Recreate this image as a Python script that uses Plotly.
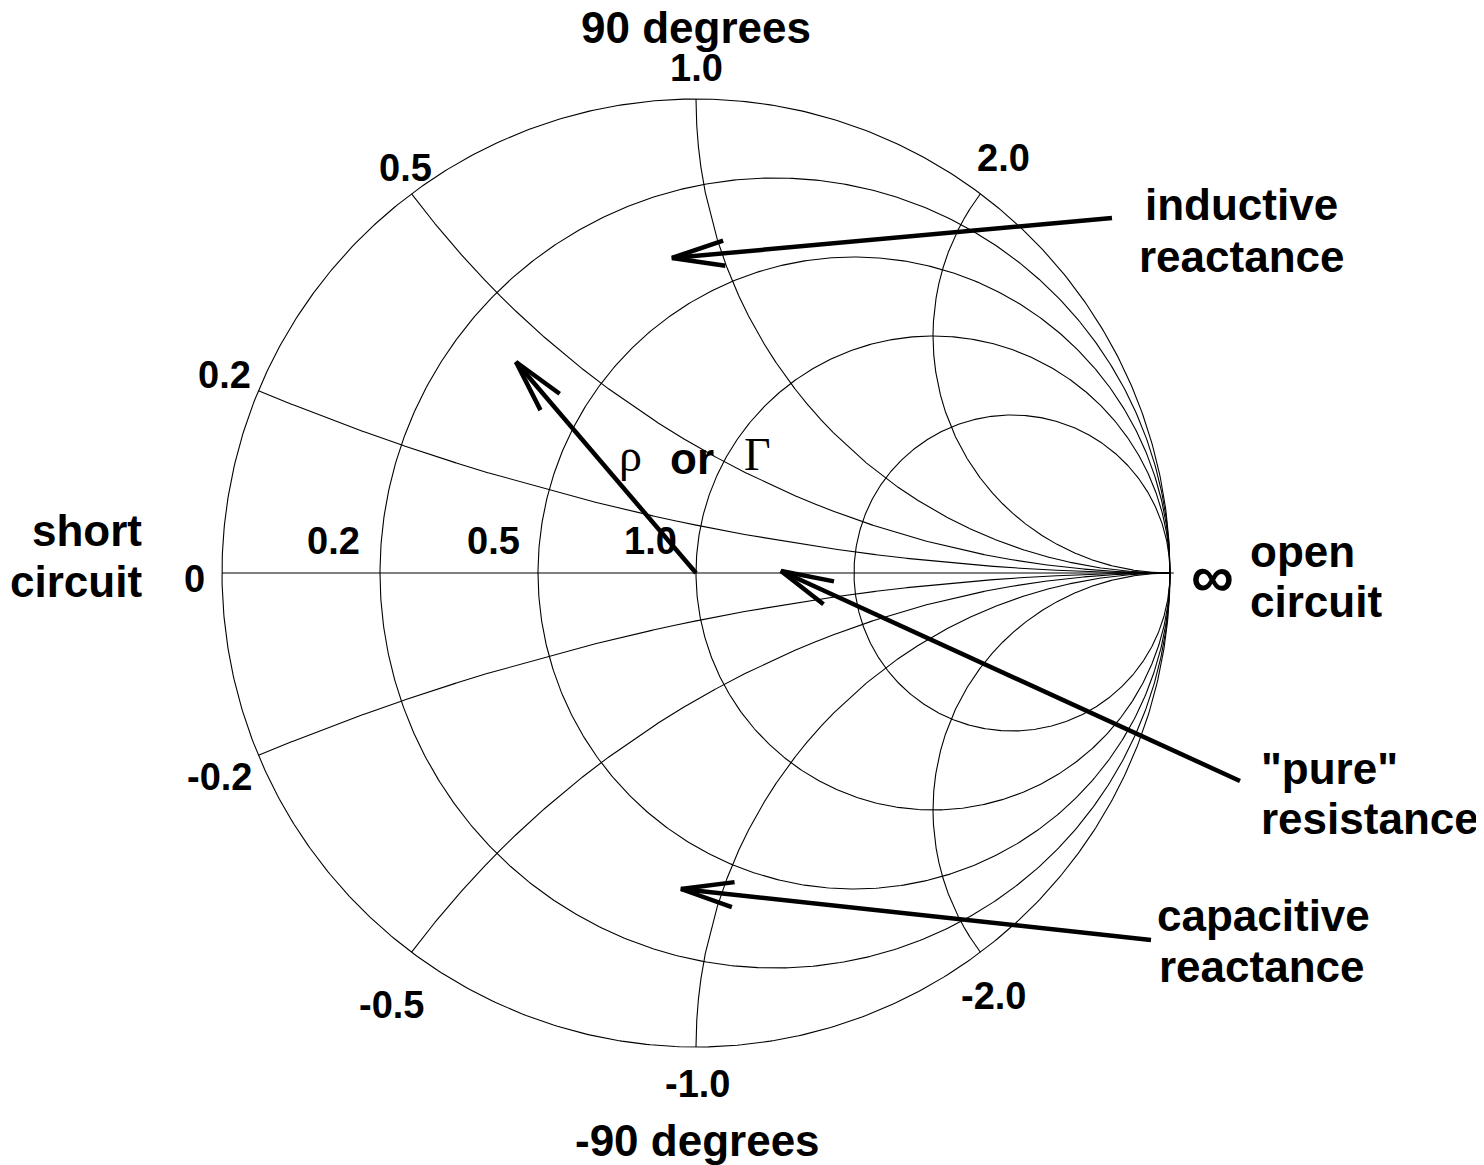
import numpy as np
import plotly.graph_objects as go

# ---------------- data ----------------
resistance_values = [0.0, 0.2, 0.5, 1.0, 2.0]
reactance_values = [0.2, 0.5, 1.0, 2.0, -0.2, -0.5, -1.0, -2.0]

resistance_tick_labels = ["0.2", "0.5", "1.0"]
reactance_tick_labels = ["1.0", "0.5", "2.0", "0.2", "-0.2", "-0.5", "-2.0", "-1.0"]

arrow_names = ["inductive", "rho", "pure", "capacitive"]

# ---------------- geometry helpers ----------------
OFF = 8  # page body margin
W, H = 1484 - OFF, 1165 - OFF
CX, CY, R = 696.0 - OFF, 573.0 - OFF, 474.0


def to_data(px, py):
    """page pixel -> chart (reflection coefficient) coordinates"""
    return (px - OFF - CX) / R, (CY - (py - OFF)) / R


def gamma(z):
    return (z - 1) / (z + 1)


fig = go.Figure()
grid_line = dict(color="black", width=1.1)

# resistance circles
for r in resistance_values:
    t = np.linspace(0, 2 * np.pi, 721)
    c = r / (1 + r)
    rad = 1 / (1 + r)
    fig.add_trace(go.Scatter(x=c + rad * np.cos(t), y=rad * np.sin(t), mode="lines",
                             line=grid_line, hoverinfo="skip"))

# reactance arcs
for xv in reactance_values:
    tt = np.linspace(0, np.pi / 2, 3000)[:-1]
    rr = np.tan(tt)
    g = gamma(rr + 1j * xv)
    gx = np.append(g.real, 1.0)
    gy = np.append(g.imag, 0.0)
    fig.add_trace(go.Scatter(x=gx, y=gy, mode="lines", line=grid_line, hoverinfo="skip"))

# real axis
fig.add_trace(go.Scatter(x=[-1, 1.008], y=[0, 0], mode="lines", line=grid_line, hoverinfo="skip"))

# arrows (page pixels: tail, tip)
arrow_px = {
    "inductive": ((1112, 218), (672, 258)),
    "rho": ((696, 573), (516, 362)),
    "pure": ((1240, 781), (781, 571)),
    "capacitive": ((1151, 940), (681, 889)),
}
BARB_LEN = 54.0
BARB_ANG = np.deg2rad(13.5)
for name in arrow_names:
    (tx, ty), (hx, hy) = arrow_px[name]
    ang = np.arctan2(ty - hy, tx - hx)
    b1 = (hx + BARB_LEN * np.cos(ang + BARB_ANG), hy + BARB_LEN * np.sin(ang + BARB_ANG))
    b2 = (hx + BARB_LEN * np.cos(ang - BARB_ANG), hy + BARB_LEN * np.sin(ang - BARB_ANG))
    pts = [(tx, ty), (hx, hy), None, b1, (hx, hy), b2]
    xs, ys = [], []
    for p in pts:
        if p is None:
            xs.append(None); ys.append(None)
        else:
            dx, dy = to_data(*p)
            xs.append(dx); ys.append(dy)
    fig.add_trace(go.Scatter(x=xs, y=ys, mode="lines",
                             line=dict(color="black", width=4.5), hoverinfo="skip"))

# ---------------- text ----------------
SANS = "Liberation Sans, Arial, Helvetica, sans-serif"
SERIF = "Liberation Serif, Times New Roman, serif"
NUM_SIZE = 38
WORD_SIZE = 44


def label(text, px, py, size, xanchor="center", family=SANS, bold=True):
    x, y = to_data(px, py)
    fig.add_annotation(x=x, y=y, text=(f"<b>{text}</b>" if bold else text), showarrow=False,
                       xanchor=xanchor, yanchor="middle",
                       font=dict(family=family, size=size, color="black"))


# reactance tick labels
react_label_pos = [(696, 68), (405, 168), (1003, 158), (224, 375),
                   (219, 777), (391, 1005), (993, 996), (697, 1084)]
for txt, (px, py) in zip(reactance_tick_labels, react_label_pos):
    label(txt, px, py, NUM_SIZE)

# resistance tick labels
res_label_pos = [(333, 541), (493, 541), (650, 541)]
for txt, (px, py) in zip(resistance_tick_labels, res_label_pos):
    label(txt, px, py, NUM_SIZE)

label("0", 194, 579, NUM_SIZE)
label("∞", 1212, 576, 60)

label("90 degrees", 696, 27, WORD_SIZE)
label("-90 degrees", 697, 1140, WORD_SIZE)

label("short", 144, 530, WORD_SIZE, xanchor="right")
label("circuit", 144, 581, WORD_SIZE, xanchor="right")
label("open", 1248, 551, WORD_SIZE, xanchor="left")
label("circuit", 1248, 601, WORD_SIZE, xanchor="left")
label("inductive", 1241, 204, WORD_SIZE)
label("reactance", 1241, 256, WORD_SIZE)
label("\"pure\"", 1259, 768, WORD_SIZE, xanchor="left")
label("resistance", 1259, 818, WORD_SIZE, xanchor="left")
label("capacitive", 1155, 915, WORD_SIZE, xanchor="left")
label("reactance", 1157, 966, WORD_SIZE, xanchor="left")

label("ρ", 630, 455, 46, family=SERIF, bold=False)
label("or", 692, 458, 44)
label("Γ", 757, 454, 46, family=SERIF, bold=False)

fig.update_layout(
    width=W, height=H,
    margin=dict(l=0, r=0, t=0, b=0),
    paper_bgcolor="white", plot_bgcolor="white",
    showlegend=False,
    xaxis=dict(range=[-CX / R, (W - CX) / R], visible=False, fixedrange=True),
    yaxis=dict(range=[(CY - H) / R, CY / R], visible=False, fixedrange=True),
)

fig.write_html("out.html")
